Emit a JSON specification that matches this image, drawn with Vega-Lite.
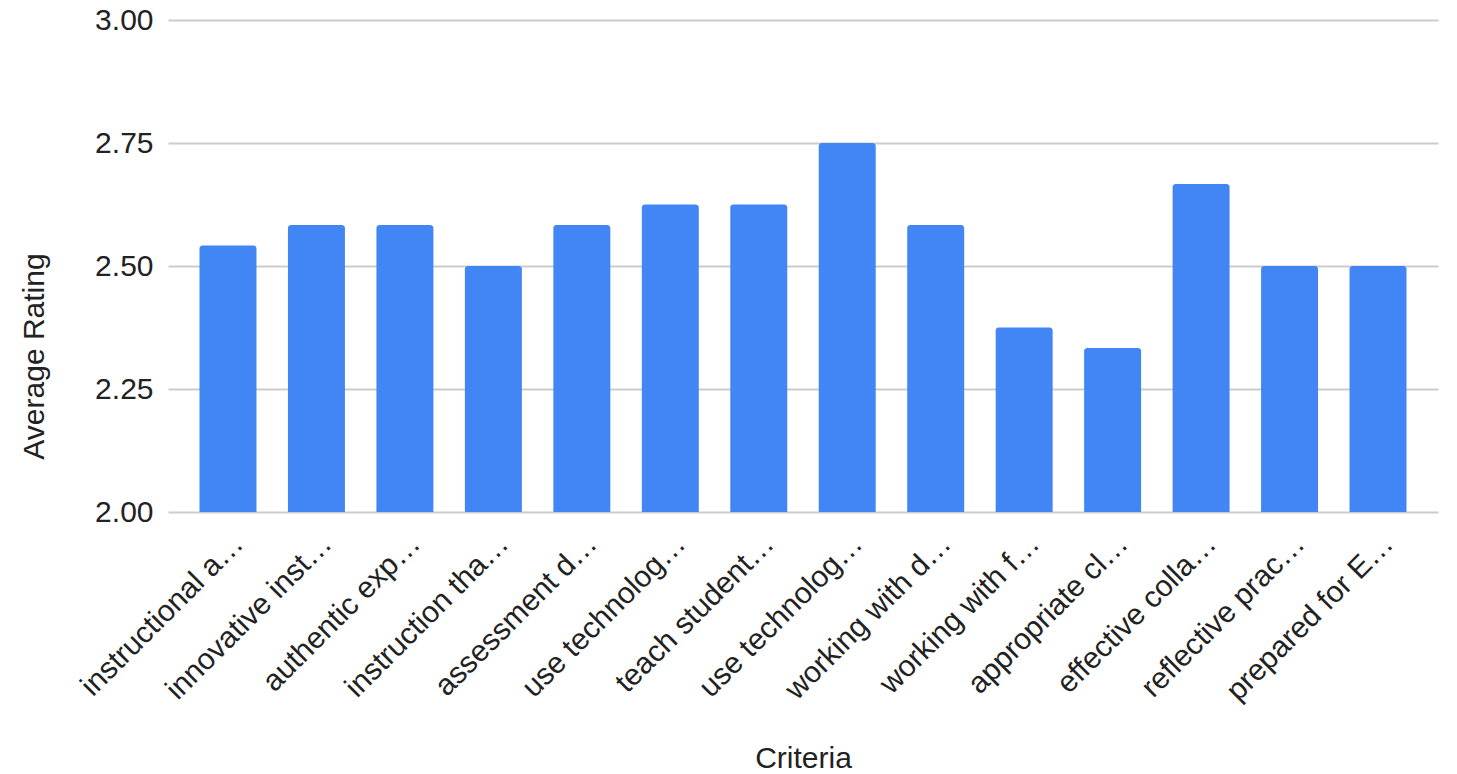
{
  "$schema": "https://vega.github.io/schema/vega-lite/v6.json",
  "autosize": {"type": "none"},
  "padding": {"left": 168, "top": 20, "right": 19, "bottom": 262},
  "width": 1270,
  "height": 492,
  "background": "white",
  "config": {
    "view": {"stroke": null},
    "font": "Liberation Sans"
  },
  "data": {
    "values": [
      {"key": "01 instructional a…", "rating": 2.5417},
      {"key": "02 innovative inst…", "rating": 2.5833},
      {"key": "03 authentic exp…", "rating": 2.5833},
      {"key": "04 instruction tha…", "rating": 2.5},
      {"key": "05 assessment d…", "rating": 2.5833},
      {"key": "06 use technolog…", "rating": 2.625},
      {"key": "07 teach student…", "rating": 2.625},
      {"key": "08 use technolog…", "rating": 2.75},
      {"key": "09 working with d…", "rating": 2.5833},
      {"key": "10 working with f…", "rating": 2.375},
      {"key": "11 appropriate cl…", "rating": 2.3333},
      {"key": "12 effective colla…", "rating": 2.6667},
      {"key": "13 reflective prac…", "rating": 2.5},
      {"key": "14 prepared for E…", "rating": 2.5}
    ]
  },
  "mark": {"type": "bar", "color": "#4285f4", "cornerRadiusTopLeft": 3, "cornerRadiusTopRight": 3},
  "encoding": {
    "x": {
      "field": "key",
      "type": "nominal",
      "sort": null,
      "scale": {"paddingInner": 0.356, "paddingOuter": 0.356},
      "axis": {
        "title": "Criteria",
        "titleFontSize": 30,
        "titleFontWeight": "normal",
        "titleColor": "#222222",
        "titleBaseline": "alphabetic",
        "titleY": 255,
        "labelExpr": "substring(datum.value, 3)",
        "labelAngle": -45,
        "labelFontSize": 30,
        "labelColor": "#222222",
        "labelLimit": 0,
        "labelPadding": 16,
        "ticks": false,
        "tickSize": 0,
        "domain": false,
        "grid": false
      }
    },
    "y": {
      "field": "rating",
      "type": "quantitative",
      "scale": {"domain": [2, 3], "zero": false, "nice": false},
      "axis": {
        "title": "Average Rating",
        "titleFontSize": 30,
        "titleFontWeight": "normal",
        "titleColor": "#222222",
        "titleBaseline": "alphabetic",
        "titleX": -125,
        "titleY": 336,
        "values": [2, 2.25, 2.5, 2.75, 3],
        "format": ".2f",
        "labelFontSize": 30,
        "labelColor": "#222222",
        "labelPadding": 15,
        "ticks": false,
        "tickSize": 0,
        "domain": false,
        "grid": true,
        "gridColor": "#cccccc",
        "gridWidth": 2
      }
    },
    "y2": {"datum": 2}
  }
}
